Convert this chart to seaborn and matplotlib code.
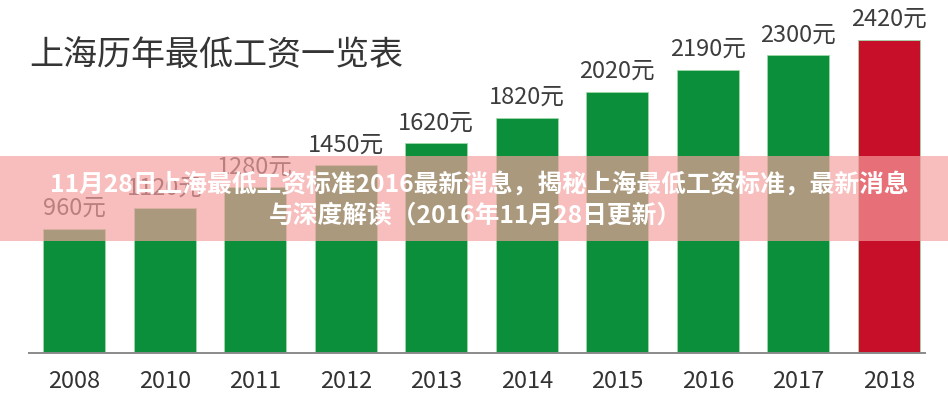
import matplotlib
matplotlib.use("Agg")
import matplotlib.pyplot as plt
import seaborn as sns
import pandas as pd
from matplotlib.patches import Rectangle

years = ["2008", "2010", "2011", "2012", "2013", "2014", "2015", "2016", "2017", "2018"]
wages = [960, 1120, 1280, 1450, 1620, 1820, 2020, 2190, 2300, 2420]
bar_colors = ["#0B8F3B"] * 9 + ["#C80F2A"]
title = "上海历年最低工资一览表"
unit = "元"
banner_line1 = "11月28日上海最低工资标准2016最新消息，揭秘上海最低工资标准，最新消息"
banner_line2 = "与深度解读（2016年11月28日更新）"

sns.set_theme(style="white")
plt.rcParams["font.family"] = ["Noto Sans CJK SC", "DejaVu Sans"]

W, H = 948, 400
fig = plt.figure(figsize=(W / 100, H / 100), dpi=100)
fig.patch.set_facecolor("white")
ax = fig.add_axes([29 / W, (H - 353) / H, 896 / W, 353 / H])

df = pd.DataFrame({"year": years, "wage": wages})
sns.barplot(data=df, x="year", y="wage", hue="year", palette=bar_colors,
            legend=False, width=0.685, ax=ax, saturation=1,
            edgecolor="#9fd9a9", linewidth=0.6)

ax.set_xlim(-0.5, 9.4)
ax.set_ylim(0, 2729)
ax.set_xlabel("")
ax.set_ylabel("")
ax.set_yticks([])
for s in ["top", "right", "left"]:
    ax.spines[s].set_visible(False)
ax.spines["bottom"].set_color("#8a8a8a")
ax.spines["bottom"].set_linewidth(1.4)
ax.tick_params(axis="x", length=0, pad=12, labelsize=17, labelcolor="#333333")
ax.set_facecolor("white")

for i, v in enumerate(wages):
    ax.annotate(f"{v}{unit}", xy=(i, v), xytext=(0, 10), textcoords="offset points",
                ha="center", va="baseline", fontsize=17, color="#3d3d3d")

fig.text(29 / W, 1 - 55 / H, title, ha="left", va="center", fontsize=24.5, color="#353535")

band = Rectangle((0, (H - 241) / H), 1, 85 / H, transform=fig.transFigure,
                 facecolor=(246 / 255, 158 / 255, 158 / 255), alpha=0.68,
                 edgecolor="none", zorder=10)
fig.add_artist(band)
fig.text(479 / W, 1 - 184 / H, banner_line1, ha="center", va="center", fontsize=17.8,
         color="white", fontweight="bold", zorder=11)
fig.text(475 / W, 1 - 215 / H, banner_line2, ha="center", va="center", fontsize=17.8,
         color="white", fontweight="bold", zorder=11)

fig.savefig("out.png", dpi=100, facecolor="white")
